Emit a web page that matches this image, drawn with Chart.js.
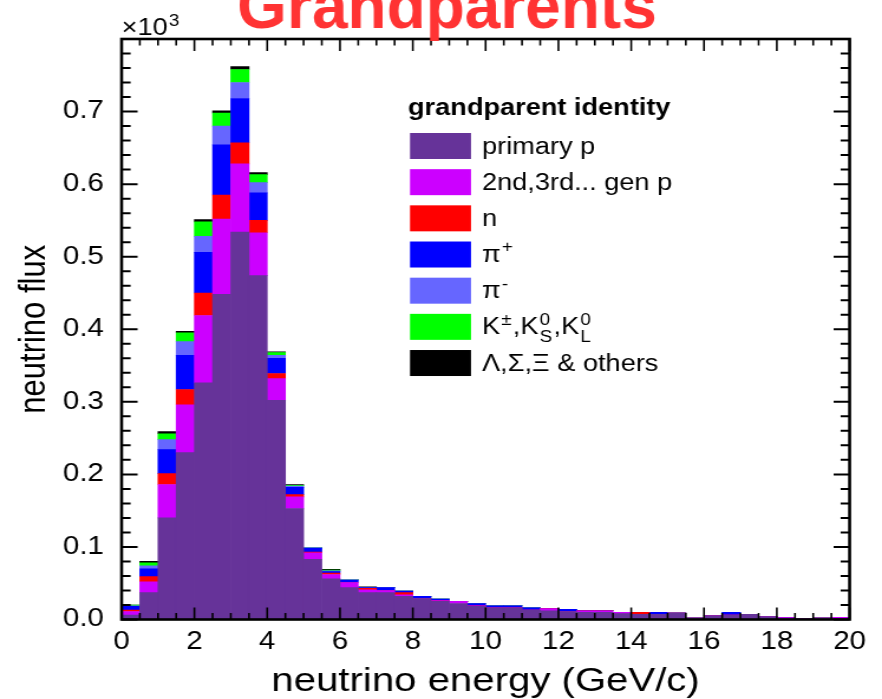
<!DOCTYPE html>
<html>
<head>
<meta charset="utf-8">
<script src="https://cdn.jsdelivr.net/npm/chart.js@4.4.1/dist/chart.umd.min.js"></script>
<style>
  html, body { margin: 0; padding: 0; background: #ffffff; overflow: hidden; }
  #flux { display: block; }
</style>
</head>
<body>
<!-- the plot is drawn on a narrower bitmap and widened on the page -->
<canvas id="flux" width="747" height="699" style="width:882px;height:699px"></canvas>
<script>
// Lower edges of the 0.5 GeV/c energy bins
const binLowEdges = [
  0.0, 0.5, 1.0, 1.5, 2.0, 2.5, 3.0, 3.5, 4.0, 4.5,
  5.0, 5.5, 6.0, 6.5, 7.0, 7.5, 8.0, 8.5, 9.0, 9.5,
  10.0, 10.5, 11.0, 11.5, 12.0, 12.5, 13.0, 13.5, 14.0, 14.5,
  15.0, 15.5, 16.0, 16.5, 17.0, 17.5, 18.0, 18.5, 19.0, 19.5
];
const binWidth = 0.5;

// Neutrino flux per bin (x10^3), split by grandparent identity
const primaryP = [
  0.006, 0.037, 0.140, 0.230, 0.326, 0.448, 0.534, 0.474, 0.302, 0.153,
  0.083, 0.056, 0.044, 0.037, 0.037, 0.032, 0.029, 0.025, 0.022, 0.018,
  0.016, 0.016, 0.013, 0.012, 0.011, 0.010, 0.010, 0.008, 0.007, 0.007,
  0.009, 0.002, 0.005, 0.006, 0.007, 0.004, 0.002, 0.001, 0.002, 0.001
];
const laterGenP = [
  0.005, 0.015, 0.046, 0.066, 0.093, 0.104, 0.094, 0.059, 0.030, 0.016,
  0.009, 0.006, 0.007, 0.004, 0.003, 0.002, 0.000, 0.001, 0.003, 0.001,
  0.000, 0.000, 0.000, 0.003, 0.000, 0.002, 0.002, 0.002, 0.000, 0.000,
  0.000, 0.000, 0.000, 0.000, 0.000, 0.000, 0.001, 0.000, 0.000, 0.002
];
const neutrons = [
  0.002, 0.007, 0.015, 0.021, 0.031, 0.033, 0.029, 0.017, 0.007, 0.003,
  0.001, 0.002, 0.000, 0.002, 0.000, 0.003, 0.000, 0.000, 0.000, 0.000,
  0.000, 0.000, 0.000, 0.000, 0.000, 0.000, 0.000, 0.000, 0.003, 0.000,
  0.000, 0.000, 0.000, 0.000, 0.000, 0.000, 0.000, 0.000, 0.000, 0.000
];
const piPlus = [
  0.005, 0.011, 0.033, 0.047, 0.056, 0.069, 0.061, 0.038, 0.021, 0.010,
  0.005, 0.002, 0.003, 0.001, 0.004, 0.002, 0.003, 0.002, 0.000, 0.003,
  0.003, 0.003, 0.003, 0.000, 0.003, 0.000, 0.000, 0.000, 0.000, 0.003,
  0.000, 0.000, 0.000, 0.004, 0.000, 0.000, 0.000, 0.000, 0.000, 0.000
];
const piMinus = [
  0.001, 0.004, 0.014, 0.019, 0.022, 0.026, 0.022, 0.014, 0.004, 0.002,
  0.001, 0.001, 0.001, 0.000, 0.000, 0.000, 0.000, 0.000, 0.000, 0.000,
  0.000, 0.000, 0.000, 0.000, 0.000, 0.000, 0.000, 0.000, 0.000, 0.000,
  0.000, 0.000, 0.000, 0.000, 0.000, 0.000, 0.000, 0.000, 0.000, 0.000
];
const kaons = [
  0.001, 0.004, 0.008, 0.012, 0.020, 0.018, 0.018, 0.011, 0.004, 0.001,
  0.000, 0.001, 0.000, 0.000, 0.000, 0.000, 0.000, 0.000, 0.000, 0.000,
  0.000, 0.000, 0.000, 0.000, 0.000, 0.000, 0.000, 0.000, 0.000, 0.000,
  0.000, 0.000, 0.000, 0.000, 0.000, 0.000, 0.000, 0.000, 0.000, 0.000
];
const hyperonsOthers = [
  0.000, 0.002, 0.003, 0.002, 0.003, 0.003, 0.004, 0.003, 0.001, 0.001,
  0.000, 0.001, 0.000, 0.001, 0.000, 0.000, 0.000, 0.000, 0.000, 0.000,
  0.000, 0.000, 0.000, 0.000, 0.000, 0.000, 0.000, 0.000, 0.000, 0.000,
  0.000, 0.000, 0.000, 0.000, 0.000, 0.000, 0.000, 0.000, 0.000, 0.000
];

// Axis tick labels
const xTickValues = [0, 2, 4, 6, 8, 10, 12, 14, 16, 18, 20];
const yTickValues = [0.0, 0.1, 0.2, 0.3, 0.4, 0.5, 0.6, 0.7];

const seriesNames = ['primary p', '2nd,3rd... gen p', 'n', 'π+', 'π-', 'K±,K0S,K0L', 'Λ,Σ,Ξ & others'];
const seriesColors = ['#663399', '#cc00ff', '#ff0000', '#0000ff', '#6666ff', '#00ff00', '#000000'];
const seriesValues = [primaryP, laterGenP, neutrons, piPlus, piMinus, kaons, hyperonsOthers];

// Horizontal widening of the bitmap on the page
const canvas = document.getElementById('flux');
const WIDEN = 882 / canvas.width;
const FONT = '"Liberation Sans", Arial, Helvetica, sans-serif';

// Legend entries; rich text parts allow super- and subscripts
const legendTitle = 'grandparent identity';
const legendParts = [
  [{ t: 'primary p' }],
  [{ t: '2nd,3rd... gen p' }],
  [{ t: 'n' }],
  [{ t: 'π' }, { sup: '+' }],
  [{ t: 'π' }, { sup: '-' }],
  [{ t: 'K' }, { sup: '±' }, { t: ',' }, { t: 'K' }, { sup: '0', sub: 'S' }, { t: ',' }, { t: 'K' }, { sup: '0', sub: 'L' }],
  [{ t: 'Λ,Σ,Ξ & others' }]
];

function drawRich(ctx, parts, x, y, size) {
  const small = Math.round(size * 0.68);
  let cx = x;
  for (const p of parts) {
    if (p.t !== undefined) {
      ctx.font = size + 'px ' + FONT;
      ctx.fillText(p.t, cx, y);
      cx += ctx.measureText(p.t).width;
    } else {
      ctx.font = small + 'px ' + FONT;
      let w = 0;
      if (p.sup) { ctx.fillText(p.sup, cx + 1, y - size * 0.42); w = Math.max(w, ctx.measureText(p.sup).width); }
      if (p.sub) { ctx.fillText(p.sub, cx + 1, y + size * 0.32); w = Math.max(w, ctx.measureText(p.sub).width); }
      cx += w + 2;
    }
  }
}

// Frame, inward tick marks, legend and page title
const decorations = {
  id: 'decorations',
  afterDatasetsDraw(chart) {
    const { ctx, chartArea: a } = chart;
    const xs = chart.scales.x, ys = chart.scales.y;
    ctx.save();
    ctx.strokeStyle = '#000';
    // x ticks every 0.5 GeV, long every 2 GeV (bottom and top)
    ctx.lineWidth = 1.6;
    for (let i = 0; i <= 40; i++) {
      const px = xs.getPixelForValue(i * 0.5);
      const major = i % 4 === 0;
      const len = major ? 12 : 6.5;
      ctx.beginPath();
      ctx.moveTo(px, a.bottom); ctx.lineTo(px, a.bottom - len);
      ctx.moveTo(px, a.top); ctx.lineTo(px, a.top + len);
      ctx.stroke();
    }
    // y ticks every 0.02, long every 0.1 (left and right)
    ctx.lineWidth = 2;
    for (let i = 0; i <= 40; i++) {
      const py = ys.getPixelForValue(i * 0.02);
      const major = i % 5 === 0;
      const len = (major ? 16 : 9) / WIDEN;
      ctx.beginPath();
      ctx.moveTo(a.left, py); ctx.lineTo(a.left + len, py);
      ctx.moveTo(a.right, py); ctx.lineTo(a.right - len, py);
      ctx.stroke();
    }
    ctx.lineWidth = 2.6;
    ctx.strokeRect(a.left, a.top, a.right - a.left, a.bottom - a.top);

    // multiplier above the y axis
    ctx.fillStyle = '#000';
    ctx.textAlign = 'left';
    ctx.textBaseline = 'alphabetic';
    ctx.font = '23px ' + FONT;
    ctx.fillText('×10', a.left, 35);
    const mw = ctx.measureText('×10').width;
    ctx.font = '16px ' + FONT;
    ctx.fillText('3', a.left + mw + 1, 26);

    // legend
    ctx.font = 'bold 23px ' + FONT;
    ctx.fillText(legendTitle, 408 / WIDEN, 115);
    legendParts.forEach((parts, i) => {
      const top = 133 + 36.17 * i;
      ctx.fillStyle = chart.data.datasets[i].backgroundColor;
      ctx.fillRect(410 / WIDEN, top, 61 / WIDEN, 26);
      ctx.fillStyle = '#000';
      drawRich(ctx, parts, 482 / WIDEN, top + 20.5, 23);
    });

    // page title, drawn at its natural width
    ctx.save();
    ctx.fillStyle = '#ff3333';
    ctx.font = 'bold 64px ' + FONT;
    ctx.textAlign = 'center';
    ctx.translate(447 / WIDEN, 28);
    ctx.scale(1 / WIDEN, 1);
    ctx.fillText('Grandparents', 0, 0);
    ctx.restore();
    ctx.restore();
  }
};

const binCenters = binLowEdges.map(e => e + binWidth / 2);

new Chart(canvas, {
  type: 'bar',
  data: {
    labels: binCenters,
    datasets: seriesValues.map((vals, i) => ({
      label: seriesNames[i],
      data: vals,
      backgroundColor: seriesColors[i],
      borderWidth: 0,
      barPercentage: 1.0,
      categoryPercentage: 1.0
    }))
  },
  options: {
    responsive: false,
    animation: false,
    devicePixelRatio: 1,
    events: [],
    layout: { autoPadding: false, padding: { top: 39, right: 747 - 849.6 / WIDEN, left: 0, bottom: 0 } },
    plugins: { legend: { display: false }, tooltip: { enabled: false }, title: { display: false } },
    scales: {
      x: {
        type: 'linear',
        min: 0, max: 20,
        offset: false,
        stacked: true,
        grid: { display: false, drawTicks: false },
        border: { display: false },
        afterBuildTicks: s => { s.ticks = xTickValues.map(v => ({ value: v })); },
        afterFit: s => { s.height = 699 - 619.5; },
        ticks: {
          autoSkip: false, maxRotation: 0, padding: 8, color: '#000',
          font: { family: FONT, size: 25 },
          callback: v => String(v)
        },
        title: {
          display: true, text: 'neutrino energy (GeV/c)', color: '#000',
          font: { family: FONT, size: 34, lineHeight: 1 },
          padding: { top: 0, bottom: 0 }
        }
      },
      y: {
        min: 0, max: 0.8,
        stacked: true,
        grid: { display: false, drawTicks: false },
        border: { display: false },
        afterBuildTicks: s => { s.ticks = yTickValues.map(v => ({ value: v })); },
        afterFit: s => { s.width = 121.6 / WIDEN; },
        ticks: {
          autoSkip: false, padding: 15, color: '#000',
          font: { family: FONT, size: 25 },
          callback: v => v.toFixed(1)
        },
        title: {
          display: true, text: 'neutrino flux', color: '#000',
          font: { family: FONT, size: 31, lineHeight: 1 },
          padding: { top: 14, bottom: 0 }
        }
      }
    }
  },
  plugins: [decorations]
});
</script>
</body>
</html>
